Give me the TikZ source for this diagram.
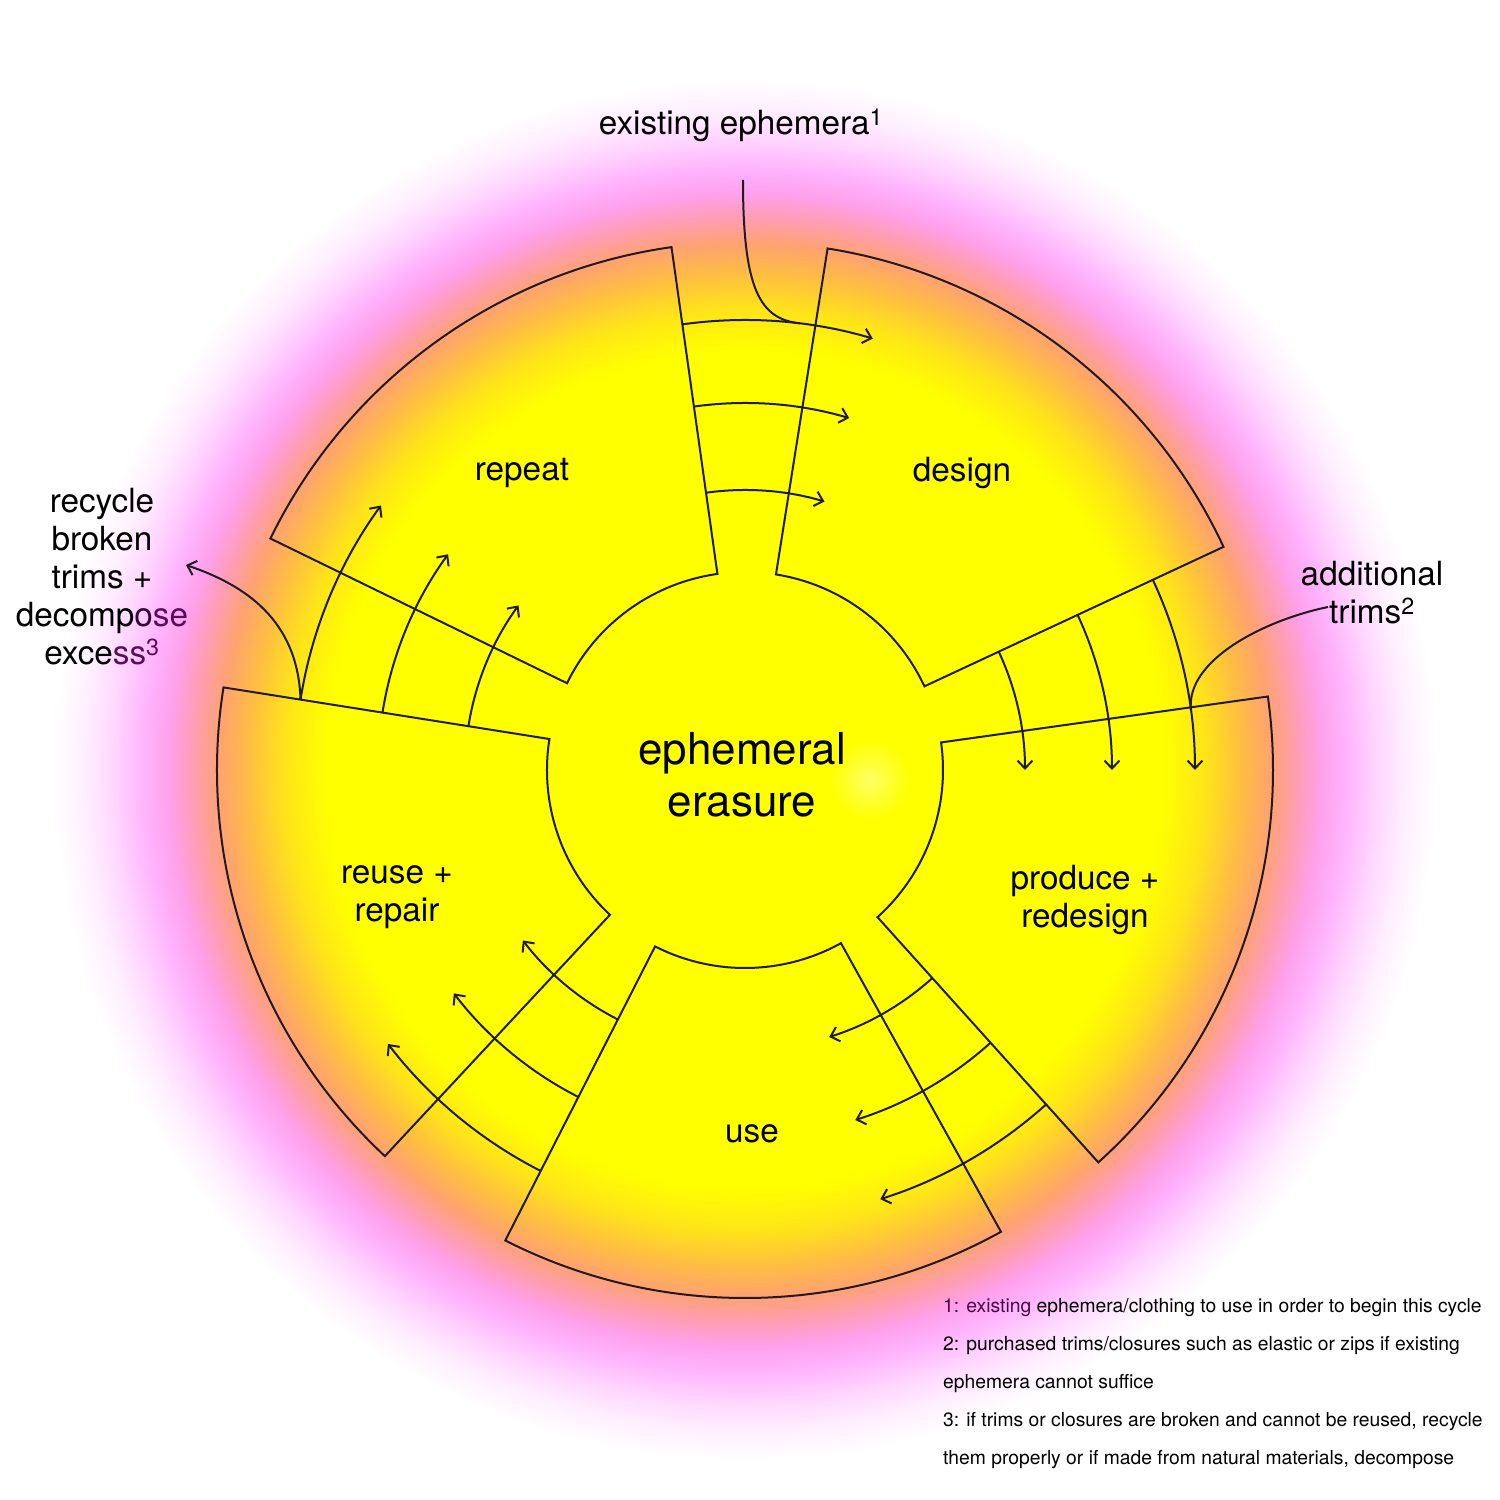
\documentclass[tikz,border=0pt]{standalone}
\usepackage{fontspec}
\setmainfont{TeX Gyre Heros}
\usetikzlibrary{arrows.meta}
\definecolor{ink}{RGB}{30,27,36}
\definecolor{plum}{RGB}{92,12,92}
\definecolor{spark}{RGB}{255,255,100}
\definecolor{glowA}{RGB}{255,255,0}
\definecolor{glowB}{RGB}{255,228,25}
\definecolor{glowC}{RGB}{255,190,65}
\definecolor{glowD}{RGB}{255,163,110}
\definecolor{glowE}{RGB}{255,157,175}
\definecolor{glowF}{RGB}{255,160,235}
\definecolor{glowG}{RGB}{255,178,252}
\definecolor{glowH}{RGB}{255,212,255}
\definecolor{glowI}{RGB}{255,238,255}
\pgfdeclareradialshading{glow}{\pgfpoint{0bp}{0bp}}{color(0bp)=(glowA); color(13.1bp)=(glowA);
  color(14.4bp)=(glowB); color(15.5bp)=(glowC); color(16.4bp)=(glowD); color(17.2bp)=(glowE);
  color(18bp)=(glowF); color(18.75bp)=(glowG); color(19.7bp)=(glowH); color(20.6bp)=(glowI);
  color(21.6bp)=(white); color(50bp)=(white)}
\begin{document}
\begin{tikzpicture}[x=1pt,y=1pt,
  sector/.style={draw=ink,line width=2pt,line join=miter},
  link/.style={draw=ink,line width=2pt},
  flow/.style={link,-{Straight Barb[length=8pt,width=15pt,line width=2pt]}},
  lbl/.style={font=\fontsize{33.3}{38}\selectfont,align=center,inner sep=0pt},
  big/.style={font=\fontsize{44}{52}\selectfont,align=center,inner sep=0pt},
  note/.style={font=\fontsize{19.3}{38}\selectfont,align=left,inner sep=0pt}]
\useasboundingbox (-745,-730) rectangle (755,770);
% background glow
\shade[shading=glow] (-800,-800) rectangle (800,800);
\shade[inner color=spark,outer color=yellow] (125,-10) circle (40);
% the five stages
\draw[sector] (154:198) -- (154:528) arc[start angle=154,end angle=98,radius=528] -- (98:198) arc[start angle=98,end angle=154,radius=198] -- cycle;
\draw[sector] (81:198) -- (81:528) arc[start angle=81,end angle=25,radius=528] -- (25:198) arc[start angle=25,end angle=81,radius=198] -- cycle;
\draw[sector] (8:198) -- (8:528) arc[start angle=8,end angle=-48,radius=528] -- (-48:198) arc[start angle=-48,end angle=8,radius=198] -- cycle;
\draw[sector] (-61:198) -- (-61:528) arc[start angle=-61,end angle=-117,radius=528] -- (-117:198) arc[start angle=-117,end angle=-61,radius=198] -- cycle;
\draw[sector] (-133:198) -- (-133:528) arc[start angle=-133,end angle=-189,radius=528] -- (-189:198) arc[start angle=-189,end angle=-133,radius=198] -- cycle;
% flows from one stage to the next
\draw[flow] (98:450) arc[start angle=98,end angle=73.5,radius=450];
\draw[flow] (98:367) arc[start angle=98,end angle=73.5,radius=367];
\draw[flow] (98:280) arc[start angle=98,end angle=73.5,radius=280];
\draw[flow] (25:450) arc[start angle=25,end angle=0,radius=450];
\draw[flow] (25:367) arc[start angle=25,end angle=0,radius=367];
\draw[flow] (25:280) arc[start angle=25,end angle=0,radius=280];
\draw[flow] (-48:450) arc[start angle=-48,end angle=-72.5,radius=450];
\draw[flow] (-48:367) arc[start angle=-48,end angle=-72.5,radius=367];
\draw[flow] (-48:280) arc[start angle=-48,end angle=-72.5,radius=280];
\draw[flow] (243:450) arc[start angle=243,end angle=217.5,radius=450];
\draw[flow] (243:367) arc[start angle=243,end angle=217.5,radius=367];
\draw[flow] (243:280) arc[start angle=243,end angle=217.5,radius=280];
\draw[flow] (171:450) arc[start angle=171,end angle=144,radius=450];
\draw[flow] (171:367) arc[start angle=171,end angle=144,radius=367];
\draw[flow] (171:280) arc[start angle=171,end angle=144,radius=280];
% labels
\node[big] (core) at (-3,-5) {ephemeral\\erasure};
\node[lbl] (repeat) at (-223,297) {repeat};
\node[lbl] (design) at (217,297) {design};
\node[lbl] (produce) at (340,-130) {produce +\\redesign};
\node[lbl] (use) at (7,-364) {use};
\node[lbl] (reuse) at (-348,-127) {reuse +\\repair};
\node[lbl] (existing) at (-4,645) {existing ephemera\textsuperscript{1}};
\node[lbl] (additional) at (627,177) {additional\\trims\textsuperscript{2}};
\node[lbl] (recycle) at (-643,193) {recycle\\broken\\trims +\\decomp{\color{plum!60!black}o}{\color{plum}se}\\exce{\color{plum}ss\textsuperscript{3}}};
\node[note,anchor=north west] (notes) at (198,-528) {{\color{plum!80!black}1: existing} ephemera/clothing to use in order to begin this cycle\\
  2: purchased trims/closures such as elastic or zips if existing\\
  ephemera cannot suffice\\
  3: if trims or closures are broken and cannot be reused, recycle\\
  them properly or if made from natural materials, decompose};
% outside inputs and outputs
\coordinate (existing-in) at (-2,590);
\coordinate (additional-in) at (583,163);
\coordinate (recycle-out) at (-559,205);
\draw[link] (existing-in) .. controls (-2,480) and (15,451) .. (83:450);
\draw[link] (additional-in) .. controls (520,150) and (440,110) .. (7.6:450);
\draw[flow] (171:450) .. controls (-447,150) and (-500,185) .. (recycle-out);
\end{tikzpicture}
\end{document}
